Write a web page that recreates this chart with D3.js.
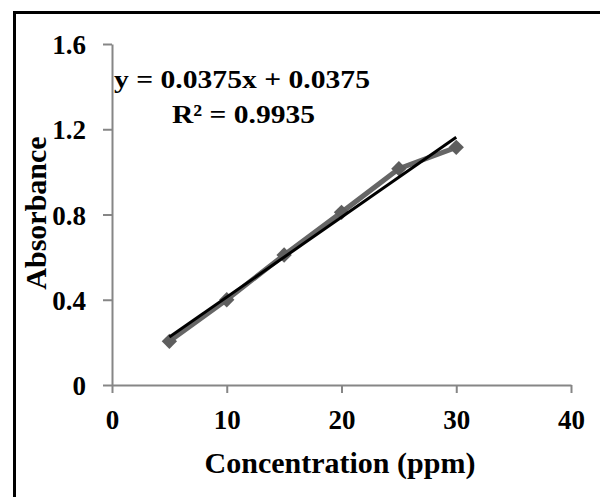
<!DOCTYPE html>
<html>
<head>
<meta charset="utf-8">
<script src="https://cdn.jsdelivr.net/npm/d3@7"></script>
<style>
  body { margin: 0; background: #fff; }
  text { font-family: "Liberation Serif", "Times New Roman", serif; font-weight: bold; fill: #000; }
</style>
</head>
<body>
<div id="chart"></div>
<script>
var concentration = [5, 10, 15, 20, 25, 30];
var absorbance = [0.205, 0.40, 0.61, 0.81, 1.015, 1.115];
var xTicks = [0, 10, 20, 30, 40];
var yTicks = [0, 0.4, 0.8, 1.2, 1.6];
var slope = 0.0375, intercept = 0.0375;
var eqText = "y = 0.0375x + 0.0375";
var r2Text = "R\u00b2 = 0.9935";

var width = 600, height = 497;
var axisColor = "#868686";

var svg = d3.select("#chart").append("svg")
    .attr("width", width)
    .attr("height", height);

// outer frame (runs off the right and bottom of the picture)
svg.append("rect")
    .attr("x", 14.5).attr("y", 12.5)
    .attr("width", 700).attr("height", 600)
    .attr("fill", "none")
    .attr("stroke", "#000")
    .attr("stroke-width", 3);

var x = d3.scaleLinear().domain([0, 40]).range([112, 571]);
var y = d3.scaleLinear().domain([0, 1.6]).range([385, 44]);

// y axis
var yAxis = svg.append("g")
    .attr("transform", "translate(112,0)")
    .call(d3.axisLeft(y).tickValues(yTicks).tickSize(9).tickSizeOuter(0)
        .tickFormat(function(d){ return d === 0 ? "0" : d3.format(".1f")(d); }));
yAxis.select(".domain").attr("stroke", axisColor).attr("stroke-width", 2);
yAxis.selectAll(".tick line").attr("stroke", axisColor).attr("stroke-width", 2);
yAxis.selectAll(".tick text")
    .attr("x", -26).attr("dy", "0.36em")
    .attr("font-size", "27px")
    .attr("font-family", "Liberation Serif")
    .style("font-weight", "bold")
    .attr("fill", "#000");

// x axis
var xAxis = svg.append("g")
    .attr("transform", "translate(0,385)")
    .call(d3.axisBottom(x).tickValues(xTicks).tickSize(8).tickSizeOuter(0));
xAxis.select(".domain").attr("stroke", axisColor).attr("stroke-width", 2);
xAxis.selectAll(".tick line").attr("stroke", axisColor).attr("stroke-width", 2);
xAxis.selectAll(".tick text")
    .attr("y", 44).attr("dy", 0)
    .attr("font-size", "27px")
    .attr("font-family", "Liberation Serif")
    .style("font-weight", "bold")
    .attr("fill", "#000");

// data line
var pts = concentration.map(function(c, i){ return [c, absorbance[i]]; });
svg.append("path")
    .datum(pts)
    .attr("fill", "none")
    .attr("stroke", "#666")
    .attr("stroke-width", 5)
    .attr("d", d3.line().x(function(d){ return x(d[0]); }).y(function(d){ return y(d[1]); }));

// diamond markers
svg.selectAll(".marker")
    .data(pts)
    .enter().append("path")
    .attr("class", "marker")
    .attr("transform", function(d){ return "translate(" + x(d[0]) + "," + y(d[1]) + ")"; })
    .attr("d", d3.symbol().type(d3.symbolDiamond2).size(150))
    .attr("fill", "#5e5e5e");

// linear trendline
var xMin = d3.min(concentration), xMax = d3.max(concentration);
svg.append("line")
    .attr("x1", x(xMin)).attr("y1", y(slope * xMin + intercept))
    .attr("x2", x(xMax)).attr("y2", y(slope * xMax + intercept))
    .attr("stroke", "#000")
    .attr("stroke-width", 3);

// equation
svg.append("text")
    .attr("x", 114).attr("y", 88)
    .attr("font-size", "26px")
    .attr("textLength", 256)
    .attr("lengthAdjust", "spacingAndGlyphs")
    .text(eqText);
svg.append("text")
    .attr("x", 172).attr("y", 123)
    .attr("font-size", "26px")
    .attr("textLength", 143)
    .attr("lengthAdjust", "spacingAndGlyphs")
    .text(r2Text);

// axis titles
svg.append("text")
    .attr("x", 340).attr("y", 473)
    .attr("text-anchor", "middle")
    .attr("font-size", "30px")
    .text("Concentration (ppm)");

svg.append("text")
    .attr("transform", "translate(46,213) rotate(-90)")
    .attr("text-anchor", "middle")
    .attr("font-size", "30px")
    .text("Absorbance");
</script>
</body>
</html>
